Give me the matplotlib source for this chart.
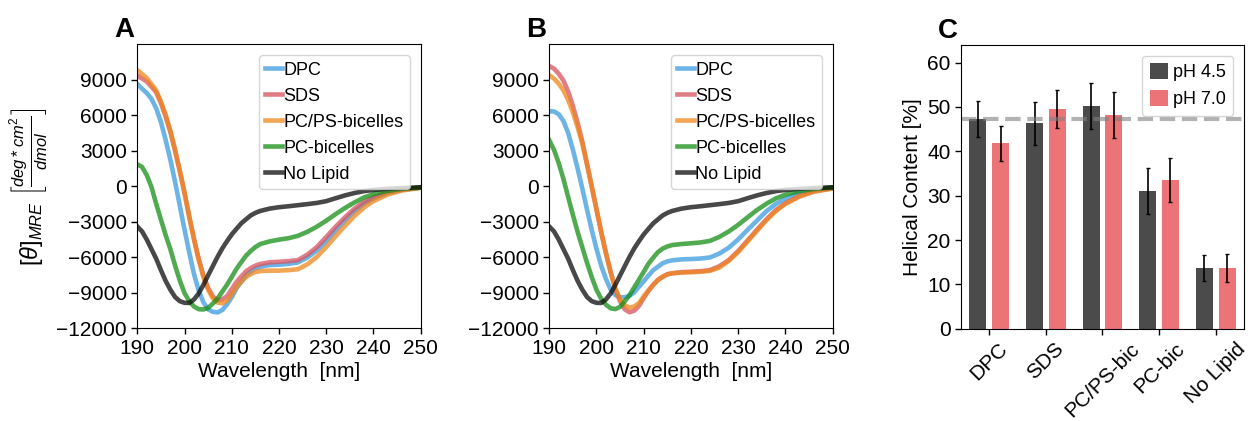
import matplotlib
matplotlib.use('Agg')
import matplotlib.pyplot as plt
import numpy as np

plt.rcParams['font.family'] = ['Liberation Sans', 'DejaVu Sans']
plt.rcParams['mathtext.fontset'] = 'custom'
plt.rcParams['mathtext.rm'] = 'Liberation Sans'
plt.rcParams['mathtext.it'] = 'Liberation Sans:italic'
plt.rcParams['mathtext.bf'] = 'Liberation Sans:bold'

# CD spectra, wavelength in nm, MRE in deg*cm^2/dmol
wavelength = list(range(190, 217)) + list(range(218, 241, 2)) + [243, 246, 250]

# panel A
a_dpc = [8640, 8260, 7890, 7400, 6600, 5450, 3930, 2240, 390, -1630, -3650, -5590, -7400, -8810,
         -9800, -10400, -10600, -10650, -10450, -9970, -9370, -8620, -8060, -7550, -7210, -6950, -6800,
         -6650, -6620, -6550, -6430, -6020, -5420, -4620, -3710, -2860, -2090, -1480, -1040,
         -550, -300, -100]
a_sds = [9350, 9110, 8860, 8420, 7950, 7040, 5910, 4590, 3010, 1290, -540, -2560, -4430, -6120,
         -7540, -8590, -9300, -9630, -9550, -9280, -8690, -8080, -7620, -7190, -6910, -6700, -6560,
         -6420, -6370, -6320, -6230, -5770, -5130, -4280, -3410, -2600, -1870, -1320, -920,
         -500, -280, -100]
a_pcps = [9830, 9500, 9160, 8640, 8100, 7180, 6050, 4730, 3100, 1330, -540, -2560, -4460, -6200,
          -7670, -8730, -9450, -9820, -9880, -9650, -9140, -8520, -8070, -7660, -7420, -7240, -7160,
          -7120, -7120, -7080, -7000, -6590, -5970, -5120, -4200, -3320, -2500, -1780, -1250,
          -690, -350, -130]
a_pc = [1860, 1650, 960, -50, -1470, -2800, -4110, -5300, -6690, -7950, -9020, -9700, -10150, -10380,
        -10400, -10270, -9900, -9480, -8890, -8310, -7650, -6970, -6410, -5870, -5470, -5130, -4880,
        -4650, -4500, -4380, -4180, -3840, -3410, -2900, -2340, -1820, -1350, -940, -650,
        -380, -210, -100]
no_lipid = [-3390, -3800, -4490, -5300, -6110, -7070, -7980, -8730, -9350, -9700, -9840, -9850, -9560,
            -9050, -8320, -7520, -6730, -5950, -5240, -4630, -4060, -3590, -3130, -2790, -2460, -2240,
            -2080, -1880, -1760, -1680, -1590, -1500, -1400, -1250, -1000, -760, -560, -400, -300,
            -200, -140, -80]

# panel B
b_dpc = [6360, 6330, 6100, 5530, 4520, 3110, 1520, -170, -1970, -3690, -5280, -6700, -7820, -8720,
         -9200, -9350, -9380, -9250, -8950, -8480, -8020, -7540, -7080, -6790, -6500, -6340, -6250,
         -6170, -6140, -6100, -6010, -5680, -5180, -4480, -3670, -2880, -2090, -1480, -1040,
         -550, -300, -100]
b_sds = [10170, 9950, 9520, 8940, 8030, 6800, 5380, 3790, 1890, -30, -1940, -3860, -5640, -7260,
         -8670, -9720, -10400, -10640, -10500, -10100, -9430, -8840, -8330, -7910, -7640, -7430, -7340,
         -7250, -7210, -7170, -7080, -6750, -6230, -5460, -4560, -3650, -2770, -2000, -1430,
         -800, -420, -160]
b_pcps = [9410, 9110, 8680, 8120, 7310, 6260, 5020, 3610, 1840, -30, -1940, -3860, -5640, -7250,
          -8620, -9560, -10050, -10250, -10150, -9850, -9300, -8790, -8330, -7910, -7640, -7430, -7350,
          -7280, -7260, -7220, -7140, -6860, -6290, -5550, -4650, -3740, -2850, -2080, -1480,
          -860, -450, -190]
b_pc = [3900, 3090, 1980, 630, -890, -2400, -3840, -5150, -6460, -7670, -8740, -9500, -10000, -10300,
        -10370, -10180, -9700, -9180, -8530, -7880, -7220, -6540, -6030, -5560, -5260, -5080, -4960,
        -4870, -4810, -4740, -4610, -4270, -3810, -3250, -2610, -1990, -1460, -1010, -700,
        -400, -230, -100]

labels = ['DPC', 'SDS', 'PC/PS-bicelles', 'PC-bicelles', 'No Lipid']
colors = ['#3b9bde', '#d8525f', '#ee871c', '#168e16', '#0b0b0b']

# panel C, helical content
conditions = ['DPC', 'SDS', 'PC/PS-bic', 'PC-bic', 'No Lipid']
ph45 = [47.3, 46.3, 50.2, 31.1, 13.7]
ph45_err = [4.0, 4.9, 5.1, 5.2, 3.0]
ph70 = [41.8, 49.5, 48.2, 33.5, 13.7]
ph70_err = [3.9, 4.3, 5.1, 5.0, 3.2]
ref_line = 47.2

fig = plt.figure(figsize=(12.48, 4.21), dpi=100)
ax1 = fig.add_axes([0.110, 0.220, 0.2271, 0.6746])
ax2 = fig.add_axes([0.4401, 0.220, 0.2271, 0.6746])
ax3 = fig.add_axes([0.770, 0.219, 0.2268, 0.6746])

for ax, data in [(ax1, [a_dpc, a_sds, a_pcps, a_pc, no_lipid]),
                 (ax2, [b_dpc, b_sds, b_pcps, b_pc, no_lipid])]:
    for y, lab, c in zip(data, labels, colors):
        ax.plot(wavelength, y, color=c, lw=3.3, alpha=0.75, label=lab)
    ax.set_xlim(190, 250)
    ax.set_ylim(-12000, 12000)
    ax.set_xticks(range(190, 251, 10))
    ax.set_yticks(range(-12000, 9001, 3000))
    ax.set_xlabel('Wavelength  [nm]', fontsize=15, labelpad=3)
    ax.tick_params(labelsize=15, length=4, width=1)
    ax.legend(loc='upper right', fontsize=13, handlelength=0.9, handletextpad=0.1,
              labelspacing=0.5, borderaxespad=0.6, borderpad=0.35)

ax1.set_ylabel(r'$[\theta]_{MRE}$ $\left[\frac{deg*cm^2}{dmol}\right]$', fontsize=17)

x = np.arange(len(conditions))
w = 0.3
ax3.bar(x - 0.2, ph45, w, color='#4b4b4b', label='pH 4.5')
ax3.bar(x + 0.2, ph70, w, color='#ec7376', label='pH 7.0')
ax3.errorbar(x - 0.2, ph45, yerr=ph45_err, fmt='none', ecolor='black', elinewidth=1.2, capsize=1.5)
ax3.errorbar(x + 0.2, ph70, yerr=ph70_err, fmt='none', ecolor='black', elinewidth=1.2, capsize=1.5)
ax3.axhline(ref_line, color='gray', ls='--', lw=3, alpha=0.6)
ax3.set_xlim(-0.5, 4.5)
ax3.set_ylim(0, 64)
ax3.set_yticks(range(0, 61, 10))
ax3.set_xticks(x)
ax3.set_xticklabels(conditions, rotation=45)
ax3.set_ylabel('Helical Content [%]', fontsize=15)
ax3.tick_params(labelsize=15, length=4, width=1)
ax3.legend(loc='upper right', fontsize=13, handlelength=1.0, handleheight=1.0,
           handletextpad=0.3, borderaxespad=0.6)

for ax, letter in [(ax1, 'A'), (ax2, 'B'), (ax3, 'C')]:
    ax.text(-0.08, 1.025, letter, transform=ax.transAxes, fontsize=20, fontweight='bold',
            ha='left', va='baseline')

fig.savefig('out.png', dpi=100)
